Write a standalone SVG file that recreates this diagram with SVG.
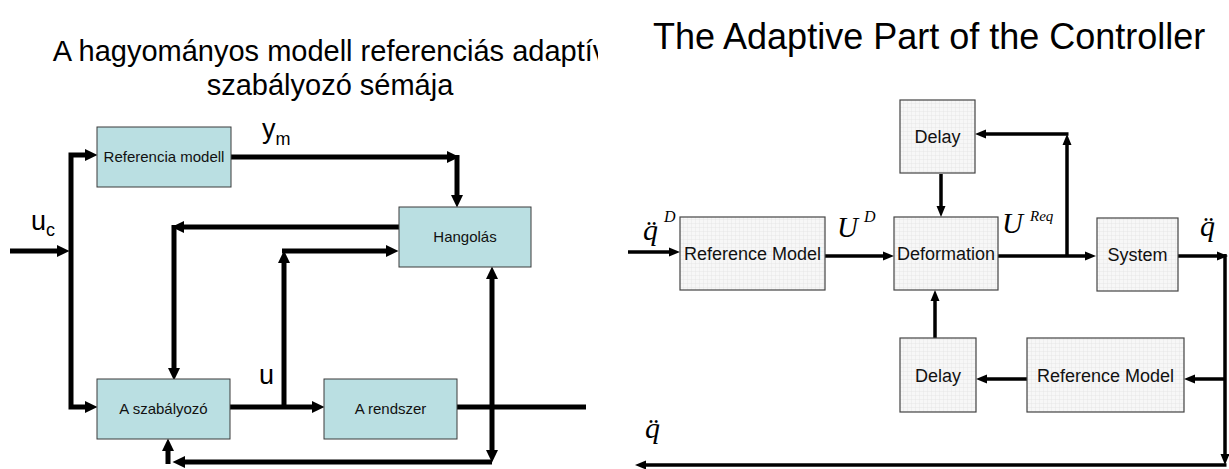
<svg xmlns="http://www.w3.org/2000/svg" width="1229" height="469" viewBox="0 0 1229 469">
<style>
.title{font-family:"Liberation Sans",Arial,sans-serif;fill:#000}
.lbox{fill:#badfe2;stroke:#3a3a3a;stroke-width:1}
.rbox{fill:url(#grid);stroke:#444;stroke-width:1.2}
.lt{font-family:"Liberation Sans",Arial,sans-serif;font-size:15px;text-anchor:middle;fill:#111}
.rt{font-family:"Liberation Sans",Arial,sans-serif;font-size:18px;text-anchor:middle;fill:#111}
.sym{font-family:"Liberation Sans",Arial,sans-serif;fill:#000}
.math{font-family:"Liberation Serif","Times New Roman",serif;font-style:italic;fill:#000}
.lc{fill:none;stroke:#000;stroke-width:5;stroke-linejoin:miter}
.rc{fill:none;stroke:#000;stroke-width:3.5;stroke-linejoin:miter}
</style>
<defs>
<pattern id="grid" width="4" height="4" patternUnits="userSpaceOnUse">
<rect width="4" height="4" fill="#f7f7f7"/>
<path d="M4 0V4M0 4H4" stroke="#dedede" stroke-width="0.6"/>
</pattern>
<marker id="al" markerUnits="userSpaceOnUse" markerWidth="13" markerHeight="13" refX="3" refY="6.5" orient="auto-start-reverse" overflow="visible">
<path d="M0,0.5 L12.5,6.5 L0,12.5 z" fill="#000"/>
</marker>
<marker id="ar" markerUnits="userSpaceOnUse" markerWidth="11" markerHeight="10" refX="3" refY="5" orient="auto-start-reverse" overflow="visible">
<path d="M0,0.5 L11,5 L0,9.5 z" fill="#000"/>
</marker>
<clipPath id="leftclip"><rect x="0" y="0" width="598" height="469"/></clipPath>
</defs>

<!-- Left diagram -->
<g id="left-title" clip-path="url(#leftclip)">
<text class="title" x="330" y="61" font-size="29" text-anchor="middle">A hagyományos modell referenciás adaptív</text>
<text class="title" x="330" y="95" font-size="29" text-anchor="middle">szabályozó sémája</text>
</g>

<g id="left-connectors">
<path class="lc" d="M10,251 H60" marker-end="url(#al)"/>
<path class="lc" d="M88,155 H71 V407 H88" marker-start="url(#al)" marker-end="url(#al)"/>
<path class="lc" d="M231,157 H450" marker-end="url(#al)"/>
<path class="lc" d="M457,155 V198" marker-end="url(#al)"/>
<path class="lc" d="M399,227 H181" marker-end="url(#al)"/>
<path class="lc" d="M174,225 V371" marker-end="url(#al)"/>
<path class="lc" d="M230,407 H315" marker-end="url(#al)"/>
<path class="lc" d="M284,409 V260" marker-end="url(#al)"/>
<path class="lc" d="M282,251 H389" marker-end="url(#al)"/>
<path class="lc" d="M457,407 H586"/>
<path class="lc" d="M492,276 V453" marker-start="url(#al)" marker-end="url(#al)"/>
<path class="lc" d="M492,462 H182" marker-end="url(#al)"/>
<path class="lc" d="M168,464 V448" marker-end="url(#al)"/>
</g>

<g id="node-referencia-modell">
<rect class="lbox" x="97" y="127" width="134" height="60"/>
<text class="lt" x="164" y="162">Referencia modell</text>
</g>
<g id="node-hangolas">
<rect class="lbox" x="399" y="207" width="132" height="60"/>
<text class="lt" x="465" y="242">Hangolás</text>
</g>
<g id="node-a-szabalyozo">
<rect class="lbox" x="97" y="379" width="133" height="60"/>
<text class="lt" x="163.5" y="414">A szabályozó</text>
</g>
<g id="node-a-rendszer">
<rect class="lbox" x="324" y="379" width="133" height="60"/>
<text class="lt" x="390.5" y="414">A rendszer</text>
</g>

<g id="left-labels">
<text class="sym" x="31" y="230" font-size="27">u<tspan font-size="18" dy="6">c</tspan></text>
<text class="sym" x="262" y="138" font-size="27">y<tspan font-size="18" dy="7">m</tspan></text>
<text class="sym" x="259" y="384" font-size="27">u</text>
</g>

<!-- Right diagram -->
<text id="right-title" class="title" x="653" y="49" font-size="36">The Adaptive Part of the Controller</text>

<g id="right-connectors">
<path class="rc" d="M628,252 H672" marker-end="url(#ar)"/>
<path class="rc" d="M825,256 H886" marker-end="url(#ar)"/>
<path class="rc" d="M998,256 H1088" marker-end="url(#ar)"/>
<path class="rc" d="M1067,257 V142" marker-end="url(#ar)"/>
<path class="rc" d="M1068.5,134 H983" marker-end="url(#ar)"/>
<path class="rc" d="M941,174 V209" marker-end="url(#ar)"/>
<path class="rc" d="M1178,256 H1220" marker-end="url(#ar)"/>
<path class="rc" d="M1225,254 V457" marker-end="url(#ar)"/>
<path class="rc" d="M1225,379 H1192" marker-end="url(#ar)"/>
<path class="rc" d="M1027,379 H984" marker-end="url(#ar)"/>
<path class="rc" d="M935,338 V298" marker-end="url(#ar)"/>
<path class="rc" d="M1226.5,465 H643" marker-end="url(#ar)"/>
</g>

<g id="node-delay-top">
<rect class="rbox" x="900" y="100" width="75" height="73"/>
<text class="rt" x="937.5" y="143">Delay</text>
</g>
<g id="node-reference-model-1">
<rect class="rbox" x="680" y="217" width="145" height="73"/>
<text class="rt" x="752.5" y="260">Reference Model</text>
</g>
<g id="node-deformation">
<rect class="rbox" x="894" y="217" width="104" height="73"/>
<text class="rt" x="946" y="260">Deformation</text>
</g>
<g id="node-system">
<rect class="rbox" x="1097" y="218" width="81" height="73"/>
<text class="rt" x="1137.5" y="261">System</text>
</g>
<g id="node-delay-bottom">
<rect class="rbox" x="900" y="338" width="76" height="74"/>
<text class="rt" x="938" y="382">Delay</text>
</g>
<g id="node-reference-model-2">
<rect class="rbox" x="1027" y="338" width="157" height="74"/>
<text class="rt" x="1105.5" y="382">Reference Model</text>
</g>

<g id="right-labels">
<text class="math" x="643" y="240" font-size="30">q̈</text>
<text class="math" x="664" y="222" font-size="16">D</text>
<text class="math" x="837" y="237" font-size="29">U</text>
<text class="math" x="864" y="222" font-size="16">D</text>
<text class="math" x="1002" y="233" font-size="29">U</text>
<text class="math" x="1030" y="221" font-size="15">Req</text>
<text class="math" x="1200" y="236" font-size="30">q̈</text>
<text class="math" x="645" y="438" font-size="30">q̈</text>
</g>
</svg>
